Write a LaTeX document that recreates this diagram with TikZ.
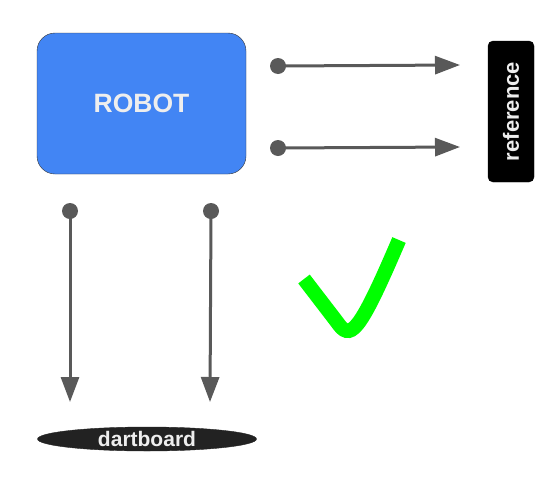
\documentclass[tikz,border=0pt]{standalone}
\usepackage{fontspec}
\setmainfont{Liberation Sans}
\usetikzlibrary{shapes,arrows.meta,positioning}
\definecolor{robotblue}{HTML}{4285F4}
\definecolor{linkgray}{HTML}{595959}
\definecolor{labelwhite}{HTML}{EEEEEE}
\definecolor{boardblack}{HTML}{222222}
\definecolor{tickgreen}{HTML}{00FF00}

\begin{document}
\begin{tikzpicture}[x=1pt,y=-1pt]
	\tikzstyle{Robot}	= [rectangle, rounded corners=18pt, draw=black!80, fill=robotblue, minimum width=209pt, minimum height=141pt, text=labelwhite, font=\bfseries\fontsize{26.5}{26.5}\selectfont]
	\tikzstyle{Ref}		= [rectangle, rounded corners=5pt, draw=black, fill=black, minimum width=141pt, minimum height=46pt, rotate=90, text=labelwhite, font=\bfseries\fontsize{22}{22}\selectfont]
	\tikzstyle{Board}	= [ellipse, draw=boardblack, fill=boardblack, minimum width=219pt, minimum height=24pt, inner sep=0pt, text=labelwhite, font=\bfseries\fontsize{21}{21}\selectfont]
	\tikzstyle{Dot}		= [circle, fill=linkgray, minimum size=16pt, inner sep=0pt]
	\tikzstyle{Link}	= [line width=3pt, linkgray, -{Triangle[length=25pt, width=18pt]}]
	\tikzstyle{Tick}	= [line width=14.5pt, tickgreen]

	\useasboundingbox (0,0) rectangle (559,477);

	\node (robot) at (141.5,103.5) [Robot] {ROBOT};
	\node (ref) at (511,111.5) [Ref] {reference};
	\node (board) at (147,439) [Board] {dartboard};

	\node (d1) at (278,66) [Dot] {};
	\node (d2) at (278,148) [Dot] {};
	\node (d3) at (70,211) [Dot] {};
	\node (d4) at (211,211) [Dot] {};
	\coordinate (t1) at (460,65);
	\coordinate (t2) at (460,147);
	\coordinate (t3) at (70,402);
	\coordinate (t4) at (210,402);

	\draw (d1.center) to (t1) [Link];
	\draw (d2.center) to (t2) [Link];
	\draw (d3.center) to (t3) [Link];
	\draw (d4.center) to (t4) [Link];

	% check mark
	\draw [Tick] (304,279) -- (337,322) .. controls (350,341) and (358,336) .. (399,240);
\end{tikzpicture}
\end{document}
